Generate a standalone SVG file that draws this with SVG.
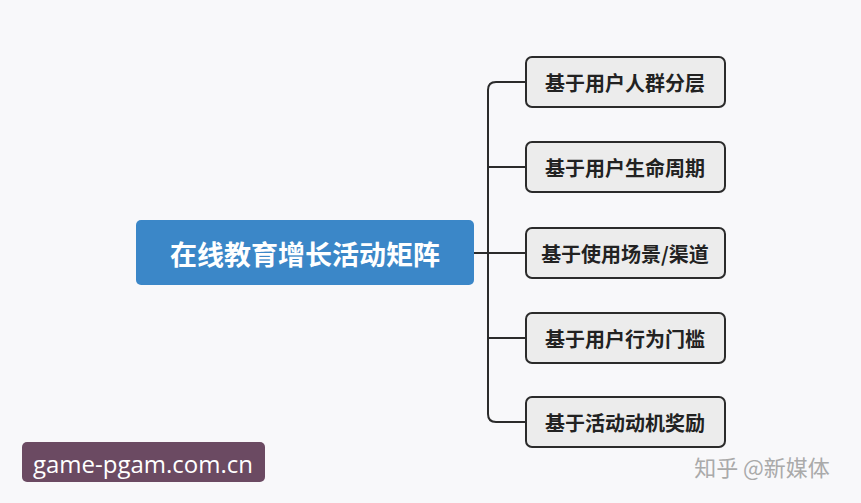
<svg xmlns="http://www.w3.org/2000/svg" width="861" height="503" viewBox="0 0 861 503">
<style>
.b{fill:#ececec;stroke:#2b2b2b;stroke-width:2}
.t{font-family:"Noto Sans CJK SC",sans-serif;font-size:20px;font-weight:bold;fill:#222;text-anchor:middle;dominant-baseline:central}
.c{fill:none;stroke:#2b2b2b;stroke-width:2}
</style>
<rect width="861" height="503" fill="#f8f8fa"/>
<g id="connectors">
<path class="c" d="M526 82H496Q488 82 488 90V414Q488 422 496 422H526"/>
<path class="c" d="M474 253H526M488 167H526M488 338H526"/>
</g>
<g id="root"><rect x="136" y="220" width="338" height="65" rx="5" fill="#3b87c8"/>
<text x="305" y="253" font-family="Noto Sans CJK SC,sans-serif" font-size="27" font-weight="bold" fill="#fff" text-anchor="middle" dominant-baseline="central">在线教育增长活动矩阵</text></g>
<g id="n1"><rect class="b" x="526" y="57" width="199" height="50" rx="6"/><text class="t" x="625" y="82">基于用户人群分层</text></g>
<g id="n2"><rect class="b" x="526" y="142" width="199" height="50" rx="6"/><text class="t" x="625" y="167">基于用户生命周期</text></g>
<g id="n3"><rect class="b" x="526" y="228" width="199" height="50" rx="6"/><text class="t" x="625" y="253">基于使用场景/渠道</text></g>
<g id="n4"><rect class="b" x="526" y="313" width="199" height="50" rx="6"/><text class="t" x="625" y="338">基于用户行为门槛</text></g>
<g id="n5"><rect class="b" x="526" y="397" width="199" height="50" rx="6"/><text class="t" x="625" y="422">基于活动动机奖励</text></g>
<rect x="22" y="442" width="243" height="40" rx="5" fill="#6b4a62"/>
<text x="143" y="463" font-family="Open Sans,sans-serif" font-size="24" fill="#fff" text-anchor="middle" dominant-baseline="central">game-pgam.com.cn</text>
<text x="762" y="466" font-family="Noto Sans CJK SC,sans-serif" font-size="22" fill="#aaa" text-anchor="middle" dominant-baseline="central">知乎 @新媒体</text>
</svg>
